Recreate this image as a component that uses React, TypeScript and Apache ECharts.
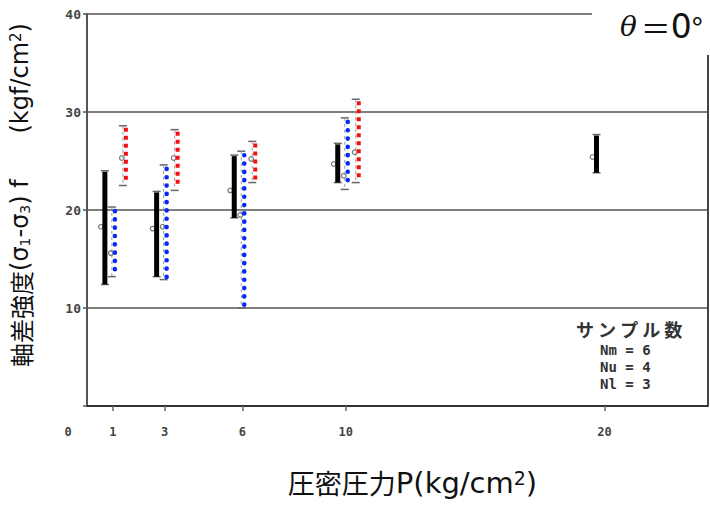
import React, { useEffect, useRef } from "react";
import * as echarts from "echarts";

// Consolidation pressure P (kg/cm2) and ranges of deviator strength (kgf/cm2)
const nmP = [1, 3, 6, 10, 20];
const nmLow = [12.4, 13.2, 19.2, 22.8, 23.8];
const nmHigh = [24.0, 21.9, 25.6, 26.8, 27.7];
const nmMean = [18.3, 18.1, 22.0, 24.7, 25.4];

const nuP = [1, 3, 6, 10];
const nuLow = [13.2, 12.9, 10.0, 22.1];
const nuHigh = [20.3, 24.6, 26.0, 29.4];
const nuMean = [15.6, 18.3, 19.5, 23.5];

const nlP = [1, 3, 6, 10];
const nlLow = [22.5, 22.0, 22.8, 22.8];
const nlHigh = [28.6, 28.2, 27.0, 31.3];
const nlMean = [25.3, 25.3, 25.2, 25.9];

const xLabelValues = [0, 1, 3, 6, 10, 20];
const xTickValues = [1, 3, 6, 10, 20];

const GRAY = "#666";

function rangeSeries(
  name: string,
  ps: number[],
  lows: number[],
  highs: number[],
  means: number[],
  kind: "black" | "blue" | "red",
  offset: number
) {
  return {
    type: "custom",
    name,
    data: ps.map((p, i) => [p, lows[i], highs[i], means[i]]),
    encode: { x: 0, y: [1, 2] },
    renderItem: (_params: any, api: any) => {
      const p = api.value(0);
      const lo = api.coord([p, api.value(1)]);
      const hi = api.coord([p, api.value(2)]);
      const mn = api.coord([p, api.value(3)]);
      const x = lo[0] + offset;
      const gx = kind === "black" ? x : x - 3;
      const children: any[] = [];
      children.push({
        type: "line",
        shape: { x1: gx - 4, y1: hi[1], x2: gx + 4, y2: hi[1] },
        style: { stroke: GRAY, lineWidth: 1.5 },
      });
      children.push({
        type: "line",
        shape: { x1: gx - 4, y1: lo[1], x2: gx + 4, y2: lo[1] },
        style: { stroke: GRAY, lineWidth: 1.5 },
      });
      if (kind !== "black") {
        children.push({
          type: "line",
          shape: { x1: gx, y1: hi[1], x2: gx, y2: lo[1] },
          style: { stroke: "#999", lineWidth: 1, lineDash: [3, 3] },
        });
      }
      children.push({
        type: "circle",
        shape: { cx: kind === "black" ? x - 4 : gx - 1, cy: mn[1], r: 2.3 },
        style: { fill: "rgba(0,0,0,0)", stroke: "#777", lineWidth: 1.2 },
      });
      if (kind === "black") {
        children.push({
          type: "rect",
          shape: { x: x - 2.5, y: hi[1] + 1, width: 5, height: lo[1] - hi[1] - 1 },
          style: { fill: "#000" },
        });
      } else if (kind === "blue") {
        children.push({
          type: "line",
          shape: { x1: x, y1: hi[1] + 4, x2: x, y2: lo[1] - 2 },
          style: { stroke: "#0a28f5", lineWidth: 4.6, lineDash: [0.1, 8.2], lineCap: "round" },
        });
      } else {
        children.push({
          type: "line",
          shape: { x1: x, y1: hi[1] + 2, x2: x, y2: lo[1] - 3 },
          style: { stroke: "#ee1111", lineWidth: 4, lineDash: [4, 4] },
        });
      }
      return { type: "group", children };
    },
  };
}

export default function App() {
  const ref = useRef<HTMLDivElement>(null);
  useEffect(() => {
    document.body.style.margin = "0";
    if (!ref.current) return;
    const chart = echarts.init(ref.current, null, { renderer: "svg" });
    const option: any = {
      animation: false,
      backgroundColor: "#fff",
      grid: { left: 87, right: 2, top: 14, bottom: 100 },
      xAxis: {
        type: "value",
        min: 0,
        max: 24,
        name: "圧密圧力{l|P(kg/cm}{sup|2}{l|)}",
        nameLocation: "middle",
        nameGap: 62,
        nameTextStyle: {
          fontFamily: "Noto Sans CJK JP",
          fontSize: 27,
          color: "#111",
          padding: [0, 0, 0, 30],
          rich: {
            l: { fontSize: 29, fontFamily: "DejaVu Sans", color: "#111" },
            sup: { fontSize: 19, verticalAlign: "top", fontFamily: "DejaVu Sans", color: "#111" },
          },
        },
        axisLine: { show: true, lineStyle: { color: "#333", width: 2 } },
        axisTick: {
          show: true,
          customValues: xTickValues,
          length: 5,
          lineStyle: { color: "#666", width: 1.5 },
        },
        axisLabel: {
          customValues: xLabelValues,
          margin: 20,
          fontFamily: "DejaVu Sans Mono",
          fontWeight: "bold",
          fontSize: 12,
          color: "#444",
          formatter: (v: number) => (v === 0 ? "{z|0}" : String(v)),
          rich: {
            z: {
              padding: [0, 38, 0, 0],
              fontFamily: "DejaVu Sans Mono",
              fontWeight: "bold",
              fontSize: 12,
              color: "#444",
            },
          },
        },
        splitLine: { show: false },
      },
      yAxis: {
        type: "value",
        min: 0,
        max: 40,
        interval: 10,
        name: "軸差強度{l|(σ}{sub|1}{l|-σ}{sub|3}{l|) f      (kgf/cm}{sup|2}{l|)}",
        nameLocation: "middle",
        nameRotate: 90,
        nameGap: 55,
        nameTextStyle: {
          fontFamily: "Noto Sans CJK JP",
          fontSize: 24,
          color: "#111",
          padding: [0, 0, 0, 30],
          rich: {
            l: { fontSize: 24, fontFamily: "DejaVu Sans", color: "#111" },
            sub: { fontSize: 14, verticalAlign: "bottom", fontFamily: "DejaVu Sans", color: "#111" },
            sup: { fontSize: 15, verticalAlign: "top", fontFamily: "DejaVu Sans", color: "#111" },
          },
        },
        axisLine: { show: true, lineStyle: { color: "#555", width: 2 } },
        axisTick: { show: true, length: 4, lineStyle: { color: "#555", width: 1.5 } },
        axisLabel: {
          formatter: (v: number) => (v === 0 ? "" : String(v)),
          fontFamily: "DejaVu Sans Mono",
          fontWeight: "bold",
          fontSize: 13,
          color: "#444",
          margin: 6,
        },
        splitLine: { show: true, lineStyle: { color: "#555", width: 1.6 } },
      },
      graphic: [
        {
          type: "line",
          shape: { x1: 708, y1: 55, x2: 708, y2: 406 },
          style: { stroke: "#444", lineWidth: 2 },
          z: 10,
        },
        {
          type: "text",
          left: 592,
          top: 8,
          z: 20,
          style: {
            text: "{i|θ}＝{z|0}°",
            backgroundColor: "#fff",
            padding: [2, 20, 2, 28],
            fill: "#111",
            font: "30px 'Noto Sans CJK JP'",
            rich: {
              i: { fontStyle: "italic", fontSize: 28, fontFamily: "DejaVu Serif", fill: "#111", padding: [0, 4, 0, 0] },
              z: { fontSize: 33, fontFamily: "DejaVu Sans", fill: "#111" },
            },
          },
        },
        {
          type: "text",
          left: 576,
          top: 320,
          z: 20,
          style: {
            text: "サ ン プ ル 数",
            fill: "#333",
            font: "bold 18px 'Noto Sans CJK JP'",
          },
        },
        {
          type: "text",
          left: 600,
          top: 341,
          z: 20,
          style: {
            text: "Nm = 6\nNu = 4\nNl = 3",
            fill: "#333",
            lineHeight: 17,
            font: "bold 14px 'DejaVu Sans Mono'",
          },
        },
      ],
      series: [
        rangeSeries("Nm", nmP, nmLow, nmHigh, nmMean, "black", -8),
        rangeSeries("Nu", nuP, nuLow, nuHigh, nuMean, "blue", 2),
        rangeSeries("Nl", nlP, nlLow, nlHigh, nlMean, "red", 13),
      ],
    };
    chart.setOption(option);
    return () => chart.dispose();
  }, []);
  return <div ref={ref} style={{ width: 710, height: 506 }} />;
}
